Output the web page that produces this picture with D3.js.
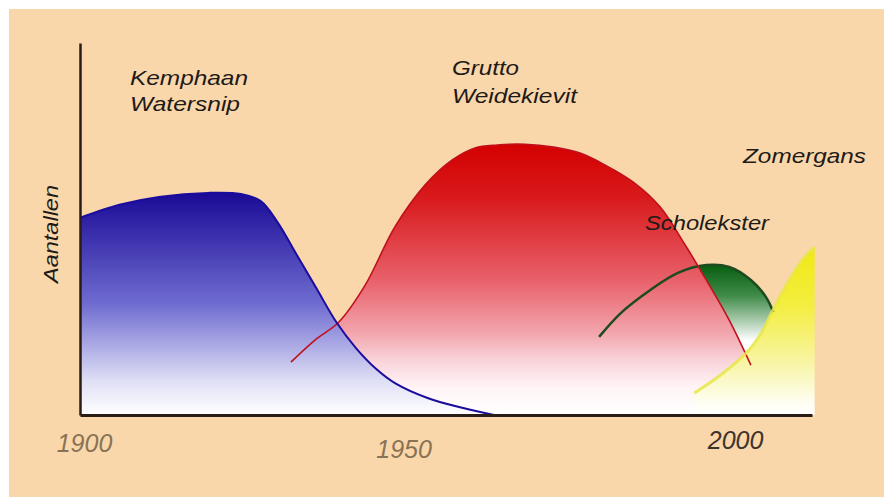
<!DOCTYPE html>
<html lang="nl">
  <head>
    <meta charset="utf-8">
    <title>Aantallen weidevogels</title>
    <script src="https://d3js.org/d3.v7.min.js"></script>
    <style>
      body { margin: 0; background: #fff; }
      svg { display: block; }
      text { font-family: "Liberation Sans", Arial, sans-serif; font-style: italic; }
    </style>
  </head>
  <body>
    <div class="chart"></div>

    <script>
      const kemphaanYears  = [1900, 1906, 1912, 1919.5, 1924.5, 1927.5, 1930, 1933, 1936, 1939, 1942, 1945, 1948, 1953, 1958, 1963];
      const kemphaanValues = [53, 56.5, 58.6, 59.7, 59.4, 57.5, 52, 43, 34, 25, 18, 12.5, 8.5, 4.5, 2, 0];

      const gruttoYears  = [1932.1, 1935.8, 1939.4, 1943.4, 1947.9, 1952.5, 1956.6, 1960.1, 1963.5, 1967.7, 1972.1, 1976.1, 1979.9, 1984.2, 1988.3, 1992.1, 1995.3, 1998.8, 2002.1];
      const gruttoValues = [14.2, 20.2, 25, 34.9, 50.5, 61.8, 68.5, 71.8, 72.6, 72.8, 72, 70.4, 67.2, 62.6, 55.9, 45.7, 36.3, 25.5, 13.4];

      const scholeksterYears  = [1979, 1982.3, 1986.8, 1991, 1995.3, 1998.8, 2002.1, 2004.4, 2005.5];
      const scholeksterValues = [21, 27.4, 33.6, 38.2, 40.3, 39.8, 36.3, 31.7, 27.7];

      const zomergansYears  = [1993.5, 1997.9, 2001.4, 2003.5, 2005.3, 2007.3, 2009.9, 2011.8];
      const zomergansValues = [5.9, 11.3, 16.7, 21.5, 27.7, 34.4, 41.7, 45.2];

      const tickYears = [1900, 1950, 2000];

      const width = 884, height = 497;
      const toPoints = (xs, ys) => xs.map((d, i) => ({year: d, value: ys[i]}));

      const svg = d3.select('.chart').append('svg')
          .attr('width', width)
          .attr('height', height);

      // perzik achtergrond met witte rand links/boven
      svg.append('rect')
          .attr('x', 9).attr('y', 9)
          .attr('width', width - 9).attr('height', height - 9)
          .attr('fill', '#f9d7ab');

      const x = d3.scaleLinear().domain([1900, 2011.4]).range([80, 812]);
      const y = d3.scaleLinear().domain([0, 100]).range([415, 43]);

      // volgorde = tekenvolgorde van de vlakken
      const series = [
        {name: 'scholekster', pts: toPoints(scholeksterYears, scholeksterValues), line: '#1e4a20', lw: 2.5,
         stops: [[0, '#075e10'], [0.4, '#3f8a47'], [1, '#ffffff']], top: 40.3, bottom: 20},
        {name: 'grutto', pts: toPoints(gruttoYears, gruttoValues), line: '#c0101e', lw: 1.6,
         stops: [[0, '#d40000'], [0.2, '#d81a1c'], [0.5, '#e8606a'], [0.7, '#f3a6ae'], [0.8, '#f9d4da'], [0.9, '#fff4f6'], [1, '#ffffff']], top: 72.8, bottom: 0},
        {name: 'kemphaan', pts: toPoints(kemphaanYears, kemphaanValues), line: '#1a0c9c', lw: 2,
         stops: [[0, '#1a0a96'], [0.5, '#6f6cd0'], [0.85, '#e0e0f6'], [1, '#ffffff']], top: 59.7, bottom: 0},
        {name: 'zomergans', pts: toPoints(zomergansYears, zomergansValues), line: '#e8e64a', lw: 3,
         stops: [[0, '#f0e814'], [0.35, '#f3ee40'], [0.7, '#f8f5a8'], [0.92, '#fefef0'], [1, '#ffffff']], top: 45.2, bottom: 0}
      ];

      const defs = svg.append('defs');
      series.forEach(s => {
        const g = defs.append('linearGradient')
            .attr('id', 'grad-' + s.name)
            .attr('gradientUnits', 'userSpaceOnUse')
            .attr('x1', 0).attr('x2', 0)
            .attr('y1', y(s.top)).attr('y2', y(s.bottom));
        s.stops.forEach(st => g.append('stop').attr('offset', st[0]).attr('stop-color', st[1]));
      });

      const area = d3.area()
          .x(d => x(d.year))
          .y0(y(0))
          .y1(d => y(d.value))
          .curve(d3.curveCatmullRom);

      const line = d3.line()
          .x(d => x(d.year))
          .y(d => y(d.value))
          .curve(d3.curveCatmullRom);

      // eerst de vlakken, dan de lijnen
      svg.selectAll('.area')
          .data(series)
          .enter()
          .append('path')
          .attr('class', 'area')
          .attr('d', d => area(d.pts))
          .attr('fill', d => 'url(#grad-' + d.name + ')');

      svg.selectAll('.line')
          .data(series)
          .enter()
          .append('path')
          .attr('class', 'line')
          .attr('d', d => line(d.pts))
          .attr('fill', 'none')
          .attr('stroke', d => d.line)
          .attr('stroke-width', d => d.lw)
          .attr('stroke-opacity', d => d.name == 'zomergans' ? 0.85 : 1);

      // assen
      const xAxis = svg.append('g')
          .attr('transform', `translate(0, ${y(0)})`)
          .call(d3.axisBottom(x).tickValues(tickYears).tickFormat(d3.format('d')).tickSize(0).tickSizeOuter(0).tickPadding(0));
      xAxis.select('.domain').attr('stroke', '#2a1c16').attr('stroke-width', 3);
      xAxis.selectAll('text')
          .attr('font-size', 25)
          .attr('font-family', '"Liberation Sans", Arial, sans-serif')
          .attr('font-style', 'italic')
          .attr('fill', d => d == 2000 ? '#3e332c' : '#8a7355')
          .attr('dx', d => d == 1900 ? 4 : d == 1950 ? -5 : -2)
          .attr('dy', d => d == 1900 ? 37 : d == 1950 ? 43 : 34)
          .attr('y', 0);

      const yAxis = svg.append('g')
          .attr('transform', `translate(${x(1900)}, 0)`)
          .call(d3.axisLeft(y).tickValues([]).tickSizeOuter(0));
      yAxis.select('.domain').attr('stroke', '#2a1c16').attr('stroke-width', 2.5);

      svg.append('text')
          .attr('transform', 'translate(58, 234) rotate(-90)')
          .attr('text-anchor', 'middle')
          .attr('font-size', 21)
          .attr('fill', '#1e1a18')
          .attr('textLength', 98)
          .attr('lengthAdjust', 'spacingAndGlyphs')
          .text('Aantallen');

      // soortnamen
      const labels = [
        {t: 'Kemphaan', x: 130, y: 85, w: 118},
        {t: 'Watersnip', x: 130, y: 111, w: 110},
        {t: 'Grutto', x: 452, y: 75, w: 67},
        {t: 'Weidekievit', x: 452, y: 103, w: 125},
        {t: 'Zomergans', x: 743, y: 163, w: 123},
        {t: 'Scholekster', x: 645, y: 230, w: 124}
      ];
      svg.selectAll('.label')
          .data(labels)
          .enter()
          .append('text')
          .attr('class', 'label')
          .attr('x', d => d.x)
          .attr('y', d => d.y)
          .attr('font-size', 21)
          .attr('fill', '#1e1a18')
          .attr('textLength', d => d.w)
          .attr('lengthAdjust', 'spacingAndGlyphs')
          .text(d => d.t);
    </script>
  </body>
</html>
